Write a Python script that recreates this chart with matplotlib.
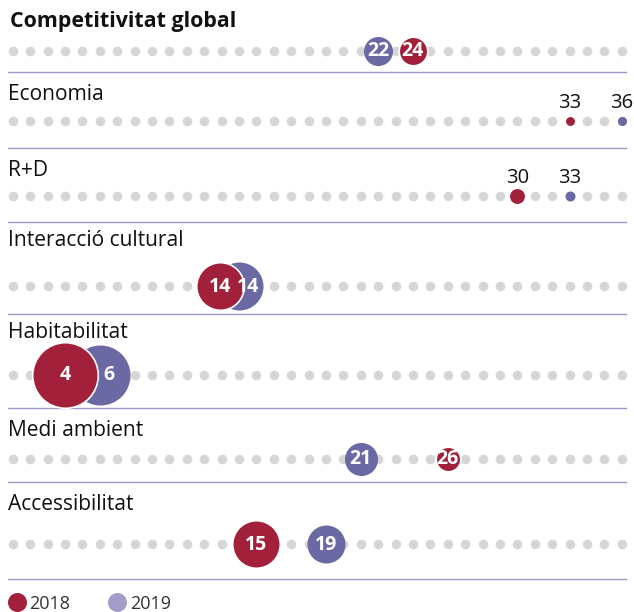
import matplotlib
matplotlib.use("Agg")
import matplotlib.pyplot as plt
from matplotlib.lines import Line2D

plt.rcParams['font.family'] = ['Open Sans', 'DejaVu Sans']

# ----------------- DATA -----------------
indicadors = ["Competitivitat global", "Economia", "R+D", "Interacció cultural",
              "Habitabilitat", "Medi ambient", "Accessibilitat"]
rank_2018 = [24, 33, 30, 14, 4, 26, 15]
rank_2019 = [22, 36, 33, 14, 6, 21, 19]
# circle radius (px) - stands for each year's score
pes_2018 = [13.5, 4.5, 7.5, 23, 32, 11.5, 23]
pes_2019 = [14.5, 4.5, 5.0, 24, 30, 16.5, 19]
N_CIUTATS = 36
anys = ["2018", "2019"]
# ----------------------------------------

RED = "#a3203a"
PURPLE = "#6b69a3"
PURPLE_LEG = "#a19dc8"
GREY = "#d6d6d6"
LINE = "#9d9ac8"

W, H, DPI = 634, 612, 100
STEP = 17.4      # px between two ranks
X0 = 12.7        # px of rank 1
PT = 72 / DPI    # px -> points

# layout (pixel rows)
dots_y = [51, 121, 196, 286, 375, 459, 544]
label_y = [22, 95, 170, 241, 333, 430, 505]
sep_y = [72, 148, 222, 314, 408, 482, 579]

fig = plt.figure(figsize=(W / DPI, H / DPI), dpi=DPI)
ax = fig.add_axes([0, 0, 1, 1])
ax.set_xlim(1 - X0 / STEP, 1 + (W - X0) / STEP)
ax.set_ylim(H, 0)
ax.axis("off")


def s_of(r):
    return (2 * r * PT) ** 2


ranks = list(range(1, N_CIUTATS + 1))
for i, name in enumerate(indicadors):
    y = dots_y[i]
    ax.scatter(ranks, [y] * len(ranks), s=s_of(4.8), color=GREY, lw=0, zorder=1)
    ax.axhline(sep_y[i], xmin=8 / W, xmax=626 / W, color=LINE, lw=1.0, zorder=0)
    if i == 0:
        ax.text(1 - X0 / STEP + 10 / STEP, label_y[i], name, fontsize=15.4,
                fontweight="bold", va="center", ha="left", color="#111111")
    else:
        ax.text(1 - X0 / STEP + 8 / STEP, label_y[i], name, fontsize=15.1,
                va="center", ha="left", color="#111111")

    r18, r19 = rank_2018[i], rank_2019[i]
    x18 = r18 - (19 / STEP if r18 == r19 else 0)
    x19 = r19
    overlap = abs(x18 - x19) * STEP < (pes_2018[i] + pes_2019[i]) * 0.8

    ax.scatter([x19], [y], s=s_of(pes_2019[i]), color=PURPLE, lw=0, zorder=2)
    ax.scatter([x18], [y], s=s_of(pes_2018[i] + 0.8), color=RED,
               edgecolors="white", linewidths=1.2, zorder=3)

    for x, rk, r, z, off in [(x19, r19, pes_2019[i], 4, 9 / STEP if overlap else 0),
                             (x18, r18, pes_2018[i], 5, 0)]:
        if r < 9:
            ax.text(x, y - 18, str(rk), fontsize=14.5, ha="center", va="center",
                    color="#111111", zorder=z)
        else:
            ax.text(x + off, y + 0.5, str(rk), fontsize=14, fontweight="bold",
                    ha="center", va="center", color="white", zorder=z)

handles = [Line2D([], [], marker="o", ls="", ms=19 * PT, color=c, mew=0)
           for c in (RED, PURPLE_LEG)]
ax.legend(handles, anys, loc="lower left", bbox_to_anchor=(-0.005, -0.019),
          frameon=False, ncol=2, fontsize=13, handletextpad=0.2,
          columnspacing=2.1, borderaxespad=0.2, handlelength=1.0,
          labelcolor="#333333")

fig.savefig("out.png", dpi=DPI)
